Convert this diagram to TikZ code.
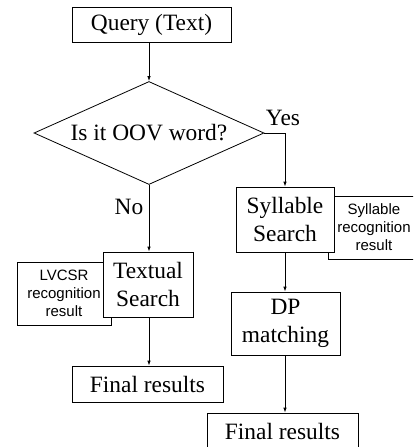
\documentclass[tikz,border=0pt]{standalone}
\usepackage{fontspec}
\setmainfont{Liberation Serif}
\newfontfamily\arialf{Liberation Sans}
\usetikzlibrary{shapes.geometric,arrows.meta}
\begin{document}
\begin{tikzpicture}[x=1pt,y=-1pt,
  mainbox/.style={draw,fill=white,line width=0.8pt,inner sep=0pt,align=center,
    font=\fontsize{23.4}{28}\selectfont},
  sidebox/.style={draw,fill=white,line width=0.8pt,inner sep=0pt,align=center,
    font=\arialf\fontsize{15}{18}\selectfont},
  lbl/.style={inner sep=0pt,font=\fontsize{23.4}{28}\selectfont},
  arr/.style={line width=0.8pt,-{Latex[length=5pt,width=3.5pt]}},
  ln/.style={line width=0.8pt}]
\useasboundingbox (0,0) rectangle (413,447);
\clip (0,0) rectangle (413,447);
% side boxes (behind)
\node[sidebox,minimum width=94pt,minimum height=63pt] (lv) at (64,293.5) {LVCSR\\recognition\\result};
\node[sidebox,minimum width=92pt,minimum height=63pt] (sr) at (374,227.5) {Syllable\\recognition\\result};
% main boxes
\node[mainbox,minimum width=159pt,minimum height=35pt] (q) at (151.5,24.5) {Query (Text)};
\node[mainbox,shape=diamond,minimum width=230pt,minimum height=103pt] (d) at (149,133) {};
\node[lbl] (dt) at (149,133) {Is it OOV word?};
\node[mainbox,minimum width=98pt,minimum height=65pt] (ss) at (285,219.5) {Syllable\\Search};
\node[mainbox,minimum width=90pt,minimum height=65pt] (ts) at (148,284.5) {Textual\\Search};
\node[mainbox,minimum width=151pt,minimum height=36pt] (fl) at (147.5,384) {Final results};
\node[mainbox,minimum width=109pt,minimum height=63pt] (dp) at (285.5,323.5) {DP\\matching};
\node[mainbox,minimum width=151pt,minimum height=36pt] (fr) at (282.5,431) {Final results};
\node[lbl] (yes) at (283,118) {Yes};
\node[lbl] (no) at (129,207) {No};
% connectors
\draw[arr] (d.north |- q.south) -- (d.north);
\draw[arr] (d.south) -- (d.south |- ts.north);
\draw[arr] (d.east) -- (ss.north |- d.east) -- (ss.north);
\draw[arr] (ss.south) -- (ss.south |- dp.north);
\draw[arr] (dp.south -| ss.south) -- (ss.south |- fr.north);
\draw[arr] (ts.south -| d.south) -- (d.south |- fl.north);
\end{tikzpicture}
\end{document}
